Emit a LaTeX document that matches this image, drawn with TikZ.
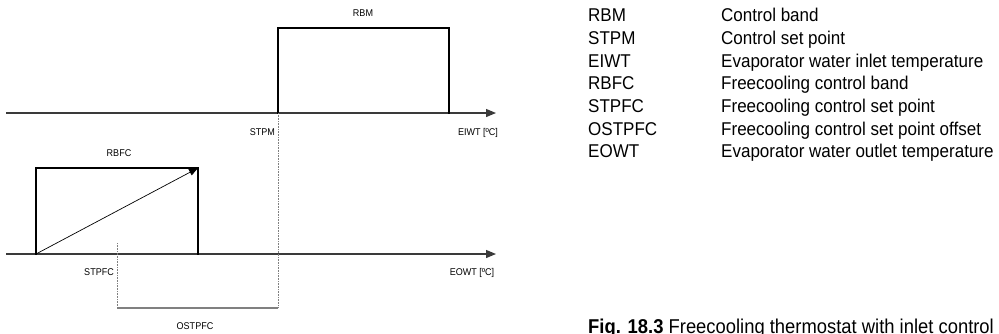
\documentclass[tikz,border=0pt]{standalone}
\usepackage{fontspec}
\setmainfont{Liberation Sans}[FakeStretch=0.92]
\usetikzlibrary{arrows.meta}
\definecolor{axisgray}{HTML}{3a3a3a}
\definecolor{guidegray}{HTML}{808080}

\begin{document}
\begin{tikzpicture}[x=1pt, y=-1pt, >={Triangle[length=10pt,width=8pt]},
  axis/.style={line width=1.2pt, draw=axisgray, ->},
  band/.style={line width=2.4pt, line cap=rect},
  guide/.style={line width=0.6pt, draw=guidegray, densely dotted},
  small/.style={font=\fontsize{9.8}{11}\selectfont, inner sep=0pt},
  legend/.style={font=\fontsize{18.5}{21}\selectfont, inner sep=0pt, anchor=base west}]
  \useasboundingbox (0,0) rectangle (999,333);

  % Inlet (main) thermostat
  \coordinate (topStart) at (6,113);
  \coordinate (topEnd) at (496,113);
  \coordinate (stpm) at (278,113);
  \coordinate (rbmEnd) at (449,113);
  \coordinate (rbmTop) at (363,28);
  \draw[axis] (topStart) -- (topEnd);
  \draw[band] (stpm) -- (stpm |- rbmTop) -| (rbmEnd);
  \node[small, anchor=base] (rbmLabel) at (363,16.5) {RBM};
  \node[small, anchor=base east] (stpmLabel) at (275,135.5) {STPM};
  \node[small, anchor=base] (eiwtLabel) at (478,135.5) {EIWT [ºC]};

  % Freecooling thermostat
  \coordinate (botStart) at (6,254);
  \coordinate (botEnd) at (496,254);
  \coordinate (fcStart) at (36,254);
  \coordinate (fcEnd) at (198,254);
  \coordinate (rbfcTop) at (117,168);
  \draw[axis] (botStart) -- (botEnd);
  \draw[band] (fcStart) -- (fcStart |- rbfcTop) -| (fcEnd);
  \draw[line width=0.7pt, -{Triangle[length=9pt,width=7pt]}] (fcStart) -- (fcEnd |- rbfcTop);
  \node[small, anchor=base] (rbfcLabel) at (119,156.5) {RBFC};
  \node[small, anchor=base east] (stpfcLabel) at (114,275.5) {STPFC};
  \node[small, anchor=base] (eowtLabel) at (472,275.5) {EOWT [ºC]};

  % Set point offset
  \coordinate (stpfc) at (117,243);
  \coordinate (offsetLine) at (195,308);
  \draw[guide] (stpm) -- (stpm |- offsetLine);
  \draw[guide] (stpfc) -- (stpfc |- offsetLine);
  \draw[line width=1.2pt, draw=guidegray] (stpfc |- offsetLine) -- (stpm |- offsetLine);
  \node[small, anchor=base] (ostpfcLabel) at (195,329.5) {OSTPFC};

  % Legend
  \node[legend] (keyRBM) at (588,21.7) {RBM};
  \node[legend] (textRBM) at (721,21.7) {Control band};
  \node[legend] (keySTPM) at (588,44.4) {STPM};
  \node[legend] (textSTPM) at (721,44.4) {Control set point};
  \node[legend] (keyEIWT) at (588,67.1) {EIWT};
  \node[legend] (textEIWT) at (721,67.1) {Evaporator water inlet temperature};
  \node[legend] (keyRBFC) at (588,89.8) {RBFC};
  \node[legend] (textRBFC) at (721,89.8) {Freecooling control band};
  \node[legend] (keySTPFC) at (588,112.5) {STPFC};
  \node[legend] (textSTPFC) at (721,112.5) {Freecooling control set point};
  \node[legend] (keyOSTPFC) at (588,135.2) {OSTPFC};
  \node[legend] (textOSTPFC) at (721,135.2) {Freecooling control set point offset};
  \node[legend] (keyEOWT) at (588,157.9) {EOWT};
  \node[legend] (textEOWT) at (721,157.9) {Evaporator water outlet temperature};

  % Caption
  \node[legend, font=\fontsize{20}{22}\selectfont] (caption) at (588,333) {\textbf{Fig. 18.3} Freecooling thermostat with inlet control};
\end{tikzpicture}
\end{document}
